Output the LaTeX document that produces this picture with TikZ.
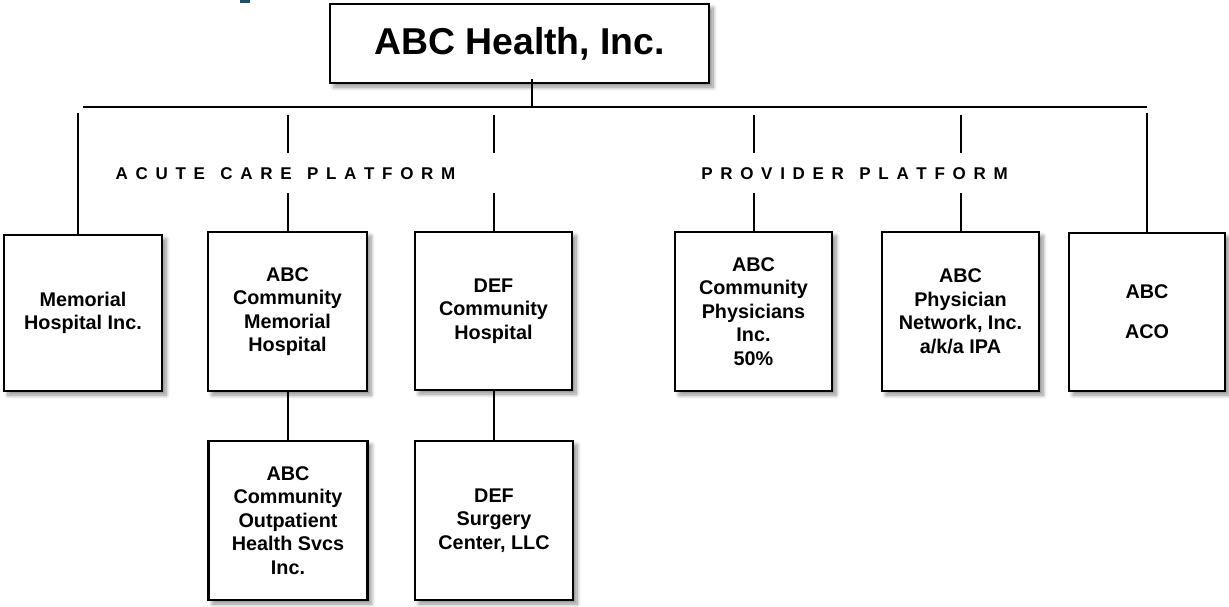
\documentclass[tikz,border=0pt]{standalone}
\usepackage{fontspec}
\setmainfont{Liberation Sans}
\usetikzlibrary{shadows.blur}
\definecolor{tealmark}{RGB}{22,84,104}
\makeatletter
\newcommand\lspaced[1]{\@tfor\lsch:=#1\do{\lsch\kern7.7pt}\unkern}
\makeatother
\newcommand\wgap{\kern15.4pt}
\tikzset{
  orgbox/.style={draw=black, line width=2.5pt, fill=white, align=center,
    font=\bfseries\fontsize{19.8}{23.5}\selectfont, inner sep=2pt,
    blur shadow={shadow xshift=4pt, shadow yshift=-4pt, shadow blur steps=8, shadow blur radius=4pt, shadow opacity=45}},
  link/.style={draw=black, line width=1.4pt},
  bus/.style={draw=black, line width=2pt},
  platform/.style={font=\bfseries\fontsize{17}{19}\selectfont, inner sep=0pt}
}
\begin{document}
\begin{tikzpicture}[x=1pt,y=-1pt]
\useasboundingbox (0,0) rectangle (1229,606);
\fill[tealmark] (240,0) rectangle (250,3);

% top
\node[orgbox, minimum width=379pt, minimum height=79pt, font=\bfseries\fontsize{37.4}{40}\selectfont] (top) at (519.5,43.5) {ABC Health, Inc.};

% second row
\node[orgbox, minimum width=158pt, minimum height=156pt] (m1) at (83,313) {Memorial\\Hospital Inc.};
\node[orgbox, minimum width=159pt, minimum height=159pt] (m2) at (287.5,311.5) {ABC\\Community\\Memorial\\Hospital};
\node[orgbox, minimum width=157pt, minimum height=158pt] (m3) at (493.5,311) {DEF\\Community\\Hospital};
\node[orgbox, minimum width=157pt, minimum height=159pt] (p1) at (753.5,311.5) {ABC\\Community\\Physicians\\Inc.\\50\%};
\node[orgbox, minimum width=157pt, minimum height=159pt] (p2) at (960.5,311.5) {ABC\\Physician\\Network, Inc.\\a/k/a IPA};
\node[orgbox, minimum width=156pt, minimum height=158pt] (p3) at (1147,312) {ABC\\[16.5pt]ACO};

% third row
\node[orgbox, minimum width=159pt, minimum height=159pt] (o1) at (288,520.5) {ABC\\Community\\Outpatient\\Health Svcs\\Inc.};
\node[orgbox, minimum width=158pt, minimum height=159pt] (o2) at (494,520.5) {DEF\\Surgery\\Center, LLC};

% platform labels
\node[platform] (acute) at (285.5,174) {\lspaced{ACUTE}\wgap\lspaced{CARE}\wgap\lspaced{PLATFORM}};
\node[platform] (prov) at (854.5,174) {\lspaced{PROVIDER}\wgap\lspaced{PLATFORM}};

% bus
\coordinate (busL) at (83,107);
\coordinate (busR) at (1147,107);
\coordinate (busT) at (532,107);
\draw[bus] (busL) -- (busR);
\draw[link] ([xshift=12.5pt,yshift=5pt]top.south) -- (busT);

% drops
\coordinate (d1) at (78,113);
\draw[link] (d1) -- (d1 |- m1.north);
\coordinate (d6) at (1147,113);
\draw[link] (d6) -- (p3.north);

\foreach \n/\xx in {m2/288, m3/494, p1/754, p2/961}{
  \coordinate (\n top) at (\xx,115);
  \coordinate (\n mid) at (\xx,153);
  \coordinate (\n low) at (\xx,193);
  \draw[link] (\n top) -- (\n mid);
  \draw[link] (\n low) -- (\n low |- \n.north);
}

% lower links
\draw[link] (m2.south -| o1.north) -- (o1.north);
\draw[link] (m3.south -| o2.north) -- (o2.north);
\end{tikzpicture}
\end{document}
